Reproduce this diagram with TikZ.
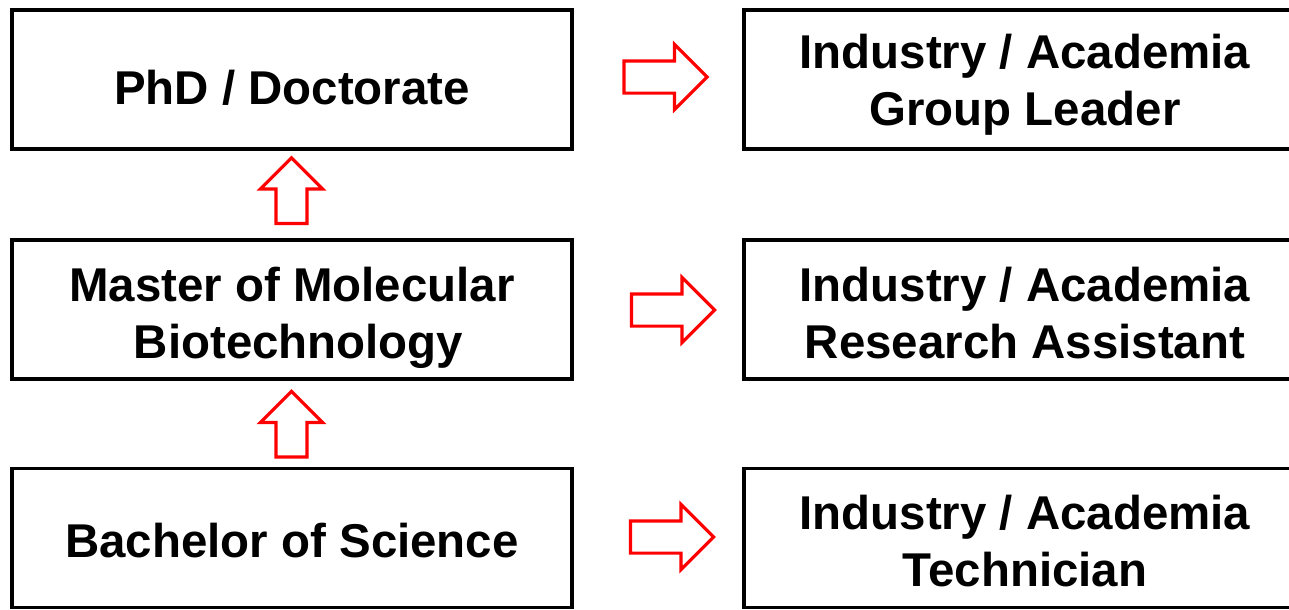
\documentclass[tikz,border=0pt]{standalone}
\usepackage{fontspec}
\setmainfont{Liberation Sans}
\usetikzlibrary{shapes.arrows}
\newcommand{\cardtext}[2][4.5pt]{\raisebox{-#1}[\height][\depth]{\begin{tabular}{@{}c@{}}#2\end{tabular}}}
\begin{document}
\begin{tikzpicture}[x = .02cm, y = -.02cm,
                    every node/.style={font=\bfseries\fontsize{27}{32.4}\selectfont},
                    stage/.style={draw=black, line width=1.8pt, align=center,
                                  minimum width=11.2cm, minimum height=2.78cm, inner sep=0pt},
                    job/.style={stage, minimum width=11.24cm},
                    nextstep/.style={single arrow, draw=red, line width=1.8pt,
                                     minimum height=1.66cm, inner xsep=0pt, inner ysep=.29cm,
                                     single arrow head extend=.33cm},
                    upstep/.style={nextstep, minimum height=1.31cm, inner ysep=.28cm,
                                   single arrow head extend=.31cm, rotate=90}]
  \useasboundingbox (0,0) rectangle (1289,609);
  \clip (0,0) rectangle (1289,609);
  \node[stage] (phd) at (292,79.5) {\cardtext[7.5pt]{PhD / Doctorate}};
  \node[stage] (master) at (292,309.5) {\cardtext[5pt]{Master of Molecular\\ \ Biotechnology}};
  \node[stage] (bachelor) at (292,538) {\cardtext[4.7pt]{Bachelor of Science}};
  \node[job] (leader) at (1025,79.5) {\cardtext[3.5pt]{Industry / Academia\\Group Leader}};
  \node[job] (assistant) at (1025,309.5) {\cardtext[5pt]{Industry / Academia\\Research Assistant}};
  \node[job] (technician) at (1025,538) {\cardtext[5pt]{Industry / Academia\\Technician}};
  \node[nextstep] (toleader) at (657.5,77) {};
  \node[nextstep] (toassistant) at (665,310) {};
  \node[nextstep] (totechnician) at (664,537) {};
  \node[upstep] (tophd) at (291.5,198.5) {};
  \node[upstep] (tomaster) at (291.5,432) {};
\end{tikzpicture}
\end{document}
